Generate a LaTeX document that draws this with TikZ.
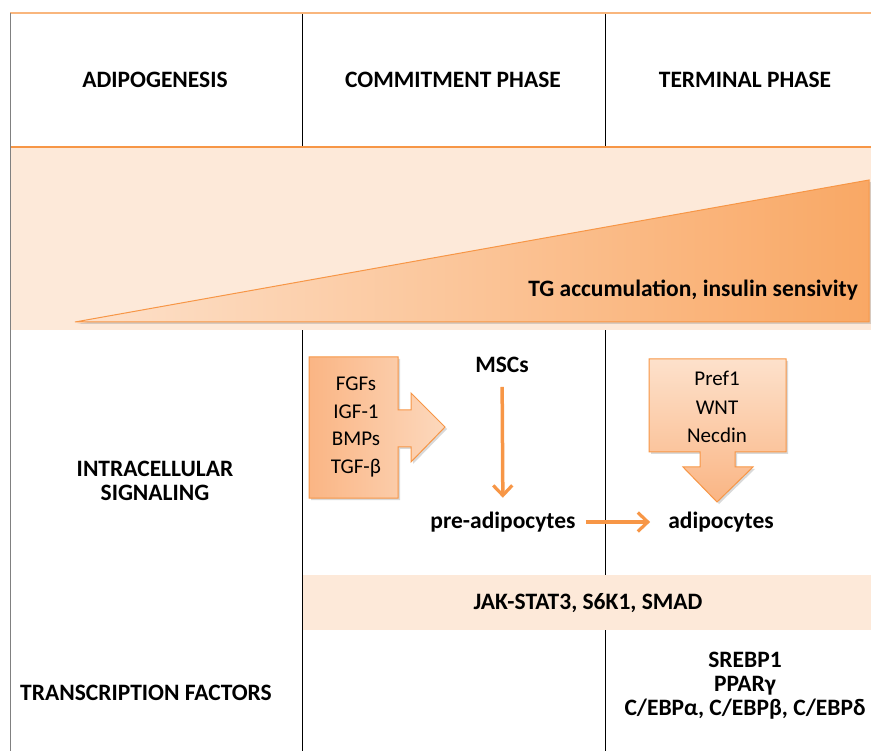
\documentclass[tikz,border=0pt]{standalone}
\usepackage{fontspec}
\setmainfont{Carlito}
\usetikzlibrary{arrows.meta, positioning, shadows}
\definecolor{peachband}{HTML}{FDE9D9}
\definecolor{lineorange}{HTML}{F79646}
\definecolor{deeporange}{HTML}{F9A865}
\definecolor{lightorange}{HTML}{FDE1CB}
\definecolor{boxorange}{HTML}{FAB584}

\begin{document}
\begin{tikzpicture}[x=1pt, y=-1pt, font=\fontsize{21}{24}\selectfont]
    \tikzstyle{head} = [font=\fontsize{23.5}{24}\selectfont\bfseries, inner sep=2pt]
    \tikzstyle{plain} = [font=\fontsize{21}{27.5}\selectfont, align=center, inner sep=0pt]
    \tikzstyle{flow} = [draw=lineorange, line width=3.5pt, -{Straight Barb[length=10pt, width=19pt, line width=3.2pt]}]
    \tikzstyle{block} = [draw=lineorange, line width=1pt, drop shadow={shadow xshift=2pt, shadow yshift=-2pt, opacity=0.3}]

    \useasboundingbox (0,0) rectangle (871,751);

    % grid lines
    \draw[black, line width=1pt] (302,13) -- (302,751);
    \draw[black, line width=1pt] (605,13) -- (605,751);

    % bands
    \fill[peachband] (10,148) rectangle (871,330);
    \fill[peachband] (303,575) rectangle (871,630);
    \draw[lineorange!70, line width=1.5pt] (10,13) -- (871,13);
    \draw[lineorange, line width=1.5pt] (10,147) -- (871,147);
    \draw[gray, line width=1pt] (10,13) -- (10,751);

    % rising triangle
    \draw[block, left color=lightorange, right color=deeporange]
      (75,322) -- (869,180) -- (869,322) -- cycle;

    % headers
    \node[head] (adipo)  at (155,80) {ADIPOGENESIS};
    \node[head] (commit) at (453,80) {COMMITMENT PHASE};
    \node[head] (term)   at (745,80) {TERMINAL PHASE};
    \node[head, anchor=east] (tg) at (860,290) {TG accumulation, insulin sensivity};

    \node[head, align=center] (signal) at (155,481) {INTRACELLULAR\\SIGNALING};
    \node[head] (transc) at (146,693) {TRANSCRIPTION FACTORS};

    % block arrows
    \draw[block, left color=boxorange, right color=lightorange!80!boxorange]
      (309,357) -- (398,357) -- (398,410) -- (411,410) -- (411,393) -- (445,427)
      -- (411,462) -- (411,447) -- (398,447) -- (398,498) -- (309,498) -- cycle;
    \node[plain] (growth) at (356,427) {FGFs\\IGF-1\\BMPs\\TGF-β};

    \draw[block, top color=lightorange, bottom color=boxorange]
      (649,359) -- (786,359) -- (786,452) -- (735,452) -- (735,467) -- (753,467)
      -- (717,502) -- (683,467) -- (700,467) -- (700,452) -- (649,452) -- cycle;
    \node[plain, font=\fontsize{21}{28.5}\selectfont] (inhib) at (717,407) {Pref1\\WNT\\Necdin};

    % cells
    \node[head] (msc)  at (502,365) {MSCs};
    \node[head] (pre)  at (503,522) {pre-adipocytes};
    \node[head] (adip) at (721,522) {adipocytes};

    \draw[flow, shorten <=12pt, shorten >=12pt] (msc) -- (pre);
    \draw[flow, shorten <=8pt, shorten >=16pt] (pre) -- (adip);

    % bottom rows
    \node[head] (jak) at (588,603) {JAK-STAT3, S6K1, SMAD};
    \node[head, align=center] (tfs) at (745,686)
      {SREBP1\\PPARγ\\C/EBPα, C/EBPβ, C/EBPδ};
\end{tikzpicture}
\end{document}
